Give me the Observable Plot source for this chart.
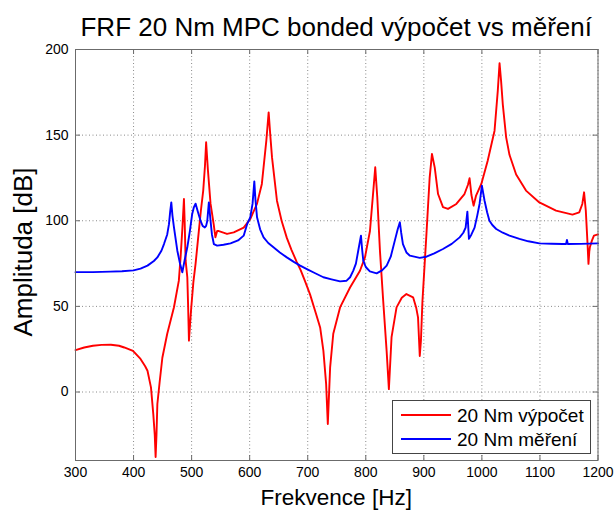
<!DOCTYPE html>
<html>
<head>
<meta charset="utf-8">
<script src="https://cdn.jsdelivr.net/npm/d3@7"></script>
<script src="https://cdn.jsdelivr.net/npm/@observablehq/plot@0.6"></script>
<style>
  html, body { margin: 0; padding: 0; background: white; }
  #chart { position: relative; width: 616px; height: 514px; }
</style>
</head>
<body>
<div id="chart"></div>
<script>
const titleText = "FRF 20 Nm MPC bonded výpočet vs měření";
const xLabel = "Frekvence [Hz]";
const yLabel = "Amplituda [dB]";
const seriesNames = ["20 Nm výpočet", "20 Nm měření"];
const seriesColors = ["#ff0000", "#0000ff"];
const xTicks = [300, 400, 500, 600, 700, 800, 900, 1000, 1100, 1200];
const yTicks = [0, 50, 100, 150, 200];

const redFreq = [300,315,330,345,361,375,384,399,412,420,424,430,434,436.5,438,439.5,441,445,449.6,458,469.6,478,481,484,486.8,488,489.7,492.6,494,495.4,497,499.4,503,506.8,512.5,516,520,523,525,528,532.6,538,541,544,547,561,572.6,589.7,601,612.7,621,628.7,632.7,635.5,638.5,647,655,664,672,681,688,695,704,714,721.4,727,731.7,734.6,738.6,744,755.7,772.9,790,798.6,807.2,813,816.3,819.8,824.4,830,835.9,839.8,844.4,853,862,870,881.5,887,890,893,895,897.6,904.5,910,914,918.8,924.5,933,941.6,956,970,976,978.8,982,985.7,990,999,1010,1021.8,1027.4,1030.4,1033,1036,1041.8,1047.5,1059,1076,1099,1127.7,1156,1167.7,1173,1176,1179,1182,1183.6,1185,1186,1189.5,1193,1200];
const redAmp = [24.5,26,27,27.5,27.6,27,26,24,19.3,15,12.4,2.7,-12.9,-25,-38,-25,-7,6,20,34,49.5,65,78.6,95,112.7,100,76.7,67,50,30,38,49.4,64,74.8,94.2,106,117.6,132,145.8,130,110,98,90.3,94,94,92.3,93.2,96,101,110,121.5,146.8,163.3,150,137,111.7,100,90,83,76,71,65,57,46,37.7,24,4.7,-18.7,14.4,34,49.4,61,70.8,78.6,94,117.6,131.2,113.7,82.5,53.3,24,1.7,32,49.4,55,57.2,55.3,49,43.6,21,30,53,92.3,125,139,131,115.6,108,106.9,109.8,115.6,121,124.8,115,108.8,114.7,121.5,135,152.6,176,192,182,168,148.7,138.5,127,117.6,110.7,105.9,103.6,104.9,109.8,116.6,105.9,86.4,74.8,82,84.5,88.4,91.3,92];

const blueFreq = [300,330,360,380,400,412,424,435,441,448,452.4,458,461,463,465,467,469.6,475.4,480,484,488,492.6,497,501,504,506.8,511,515.4,519,522.8,525,527,529.7,532.6,535,538.3,544,555,567,580,589.7,595.6,601,605,608,610,612.7,618,624,632,641,652,664,676,687,698.6,712,727,741,755.7,767,773,778.5,783,787,791.7,793.5,795.7,800,807,818.7,828,836,843,850,855,858.7,861,864,870,876,893,904.5,918,933,948,961.7,968,972,975,977.7,982,987.4,992,996,1000,1004.6,1009,1013,1018,1024.7,1036,1047.5,1064.7,1080,1099,1120,1139,1145,1146.5,1148,1170,1200];
const blueAmp = [70,70,70.3,70.5,71,72,73.8,76.5,78.6,82.5,86.4,92,98,105,110.7,103,96.1,82.5,75,69.9,77,84.5,94,104,108,110,105,100,97,96.1,97,100,110.7,100,92,86.4,85.5,86,86.8,88.5,91.3,98,102,110,123,112,102,95,90.3,87,84.5,81.5,78.6,76,73.8,71.8,69.5,67,65.8,64.6,65,67,70.9,75,82.5,91.3,84,76.7,73,70.4,69.3,71,73.8,79,88.4,95,99.1,93,86.4,81.5,79.6,78.3,79,81,83.5,86.5,90.3,93,96,105.3,89.4,92,96,103,109.8,120.5,111.7,105,100,97.5,95.2,93,91.3,89.4,88,86.8,86.6,86.4,86.4,88.8,86.4,86.5,86.8];

const red = redFreq.map((f, i) => ({f, a: redAmp[i]}));
const blue = blueFreq.map((f, i) => ({f, a: blueAmp[i]}));

const W = 616, H = 514;
const mT = 49, mB = 54, mL = 75, mR = 18.5;
const frameH = H - mT - mB, frameW = W - mL - mR;
const tickLen = 5;
const gridStyle = {stroke: "#8a8a8a", strokeOpacity: 1, strokeWidth: 1, strokeDasharray: "1,2.5"};
const tickStyle = {stroke: "#6b6b6b", strokeWidth: 1};

const plot = Plot.plot({
  width: W, height: H,
  marginTop: mT, marginBottom: mB, marginLeft: mL, marginRight: mR,
  style: {fontFamily: "'Liberation Sans', Arial, sans-serif", fontSize: "14px", color: "black", background: "white"},
  x: {domain: [300, 1200]},
  y: {domain: [-40, 200]},
  marks: [
    Plot.gridX(xTicks, gridStyle),
    Plot.gridY(yTicks, gridStyle),
    Plot.ruleX(xTicks, {...tickStyle, insetTop: frameH - tickLen}),
    Plot.ruleX(xTicks, {...tickStyle, insetBottom: frameH - tickLen}),
    Plot.ruleY(yTicks, {...tickStyle, insetRight: frameW - tickLen}),
    Plot.ruleY(yTicks, {...tickStyle, insetLeft: frameW - tickLen}),
    Plot.axisX(xTicks, {tickSize: 0, tickPadding: 7, label: null, tickFormat: d3.format("d"), fill: "black", fontSize: 14}),
    Plot.axisY(yTicks, {tickSize: 0, tickPadding: 7, label: null, tickFormat: d3.format("d"), fill: "black", fontSize: 14}),
    Plot.line(red, {x: "f", y: "a", stroke: seriesColors[0], strokeWidth: 1.9}),
    Plot.line(blue, {x: "f", y: "a", stroke: seriesColors[1], strokeWidth: 1.9}),
    Plot.frame({stroke: "#6b6b6b", strokeWidth: 1})
  ]
});

document.getElementById("chart").appendChild(plot);

const svg = d3.select(plot);
const font = "'Liberation Sans', Arial, sans-serif";
svg.append("text").text(titleText)
  .attr("x", mL + frameW / 2).attr("y", 36)
  .attr("text-anchor", "middle").attr("font-size", 26).attr("font-family", font).attr("fill", "black");
svg.append("text").text(xLabel)
  .attr("x", mL + frameW / 2).attr("y", 505)
  .attr("text-anchor", "middle").attr("font-size", 22.5).attr("font-family", font).attr("fill", "black");
svg.append("text").text(yLabel)
  .attr("transform", "translate(32,252) rotate(-90)")
  .attr("text-anchor", "middle").attr("font-size", 26).attr("font-family", font).attr("fill", "black");

const lg = svg.append("g");
lg.append("rect").attr("x", 392.5).attr("y", 400.5).attr("width", 198).attr("height", 53)
  .attr("fill", "white").attr("stroke", "#444").attr("stroke-width", 1);
seriesNames.forEach((name, i) => {
  const yy = 415 + i * 24;
  lg.append("line").attr("x1", 401).attr("x2", 451).attr("y1", yy).attr("y2", yy)
    .attr("stroke", seriesColors[i]).attr("stroke-width", 1.9);
  lg.append("text").text(name).attr("x", 457).attr("y", yy + 7)
    .attr("text-anchor", "start")
    .attr("font-size", 19).attr("font-family", font).attr("fill", "black");
});
</script>
</body>
</html>
